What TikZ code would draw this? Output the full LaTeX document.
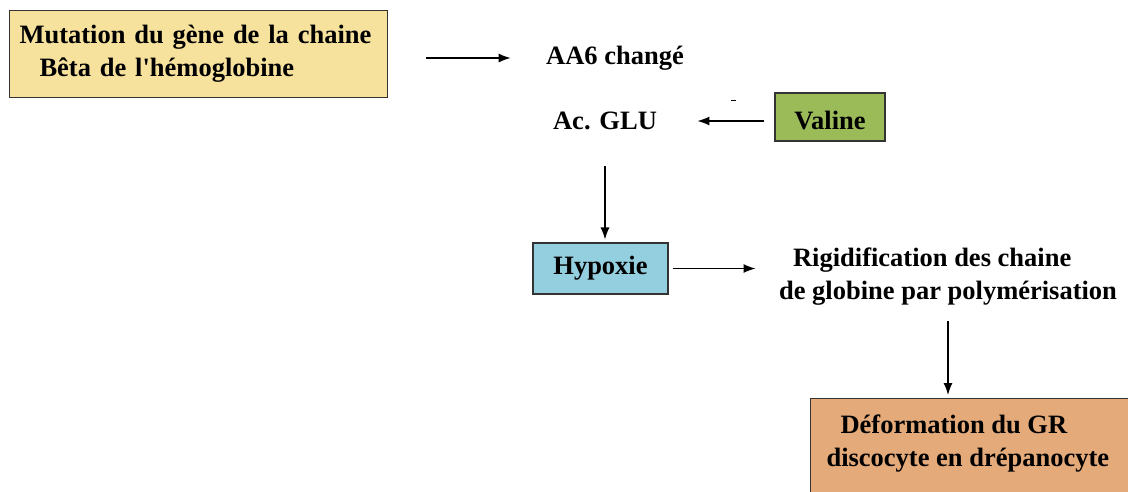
\documentclass[tikz,border=0pt]{standalone}
\usepackage{fontspec}
\setmainfont{Liberation Serif}[Ligatures=TeXOff]
\usepackage{xcolor}
\usepackage{tikz}
\usetikzlibrary{calc}
\usetikzlibrary{arrows.meta,positioning}
\definecolor{mutyellow}{RGB}{246,226,156}
\definecolor{valgreen}{RGB}{155,187,89}
\definecolor{hypblue}{RGB}{148,207,224}
\definecolor{deforange}{RGB}{228,170,122}
\tikzset{
	boite/.style={draw=black!80,line width=1.1pt},
	txt/.style={font=\bfseries\fontsize{26.5}{33}\selectfont},
	fleche/.style={-{Latex[length=12pt,width=9pt]},line width=1.3pt}
}
\begin{document}
\begin{tikzpicture}[x=1pt,y=-1pt]
	\useasboundingbox (0,0) rectangle (1128,491);
	\node[boite,txt,fill=mutyellow,anchor=north west,minimum width=378,minimum height=87,text width=358,inner xsep=10,align=left] (mut) at (9,10) {Mutation du gène de la chaine\\\hspace*{20pt}Bêta de l'hémoglobine};
	\node[txt] (aa6) at (615,58) {AA6 changé};
	\node[txt] (glu) at (605,121) {Ac. GLU};
	\node[boite,txt,fill=valgreen,minimum width=110,minimum height=48,text depth=0pt,text height=24pt] (val) at (830,117) {Valine};
	\node[boite,txt,fill=hypblue,minimum width=135,minimum height=51] (hyp) at (600.5,268.5) {Hypoxie};
	\node[txt,align=left] (rig) at (948,277) {\hspace*{14pt}Rigidification des chaine\\de globine par polymérisation};
	\node[boite,fill=deforange,anchor=north west,minimum width=340,minimum height=110] (def) at (810,398) {};
	\node[txt,align=left,anchor=north west] (deftxt) at (823,411) {\hspace*{14pt}Déformation du GR\\discocyte en drépanocyte};
	\draw[line width=1pt] (731,100) -- (736,100);
	\draw[fleche,shorten <=38pt,shorten >=32pt] (mut.east |- aa6) -- (aa6.west);
	\draw[fleche,shorten <=10pt,shorten >=37pt] (val.west |- glu) -- (glu.east);
	\draw[fleche,shorten <=33pt,shorten >=3pt] (glu.south) -- (glu.south |- hyp.north);
	\draw[fleche,shorten <=4pt,shorten >=20pt] (hyp.east) -- (hyp.east -| rig.west);
	\draw[fleche,shorten <=12pt,shorten >=3pt] (rig.south) -- (rig.south |- def.north);
\end{tikzpicture}
\end{document}
